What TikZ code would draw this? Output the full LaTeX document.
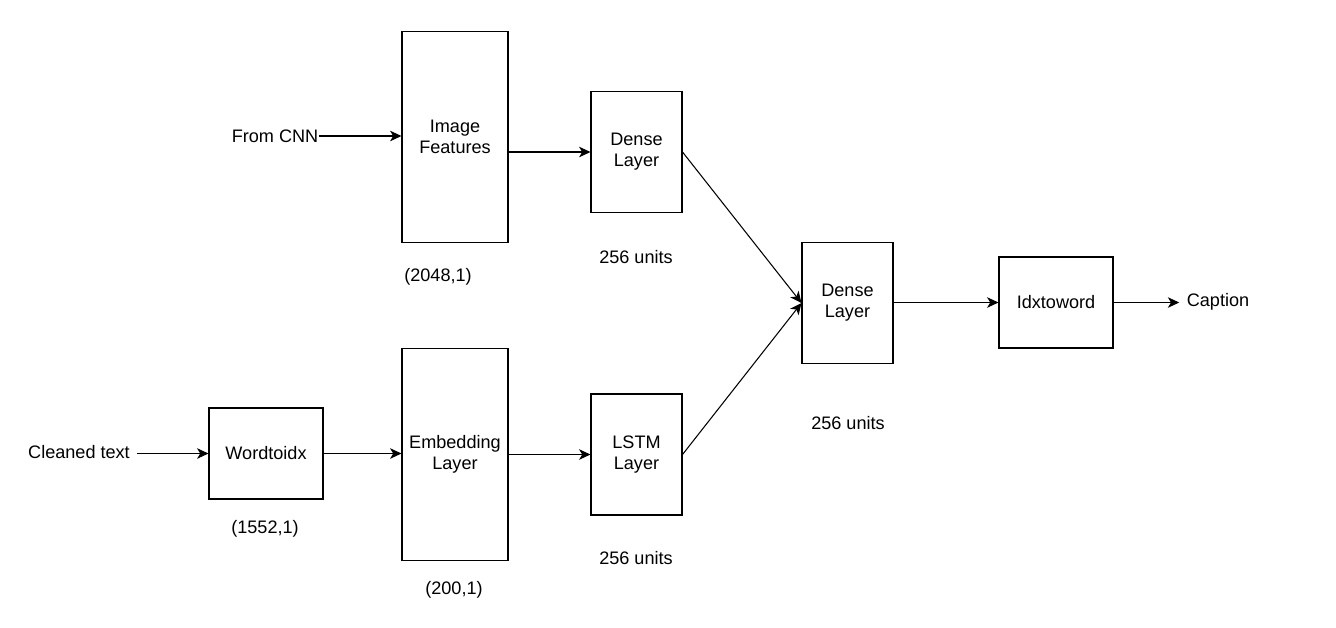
\documentclass[tikz,border=0pt]{standalone}
\usepackage{fontspec}
\setmainfont{Liberation Sans}
\usetikzlibrary{positioning}
\usetikzlibrary{calc}
\usetikzlibrary{arrows.meta}
\begin{document}
\begin{tikzpicture}[-{Stealth[length=6.5pt, width=6pt, inset=1.8pt]}, line width =0.6 pt,
        x=0.02cm, y=-0.02cm,
        font=\fontsize{10.3}{11.9}\selectfont,
        tall/.style={rectangle, draw, align=center, minimum width=2.12cm, minimum height=4.23cm, inner sep=0pt},
        mid/.style={rectangle, draw, align=center, minimum width=1.82cm, minimum height=2.42cm, inner sep=0pt},
        wide/.style={rectangle, draw, align=center, minimum width=2.28cm, minimum height=1.82cm, inner sep=0pt},
        lbl/.style={inner sep=0pt}]
            \useasboundingbox (0,0) rectangle (1336,627);

            % layer boxes
            \node [tall] (feat) at (455,137) {Image\\Features};
            \node [mid] (dense1) at (636.5,152) {Dense\\Layer};
            \node [wide] (w2i) at (266,453.5) {Wordtoidx};
            \node [tall] (embed) at (455,454.5) {Embedding\\Layer};
            \node [mid] (lstm) at (636.5,454.5) {LSTM\\Layer};
            \node [mid] (dense2) at (847.5,303) {Dense\\Layer};
            \node [wide] (i2w) at (1056,302.5) {Idxtoword};

            % inputs and output
            \node [lbl] (cnn) at (275,136) {From CNN};
            \node [lbl] (clean) at (79,452) {Cleaned text};
            \node [lbl] (capt) at (1218,302) {Caption};

            % sizes
            \node [lbl] (featsize) at (438,277) {(2048,1)};
            \node [lbl] (d1size) at (636,257) {256 units};
            \node [lbl] (w2isize) at (265,529) {(1552,1)};
            \node [lbl] (embsize) at (454,590) {(200,1)};
            \node [lbl] (lstmsize) at (636,558) {256 units};
            \node [lbl] (d2size) at (848,423) {256 units};

            \draw (cnn.east) -- (cnn.east -| feat.west);
            \draw (feat.east |- dense1.west) -- (dense1.west);
            \draw (dense1.east) -- (dense2.west);

            \draw ($(clean.east |- w2i.west)+(4pt,0)$) -- (w2i.west);
            \path (w2i) edge (embed.west |- w2i.east);
            \draw (embed.east |- lstm.west) -- (lstm.west);
            \draw (lstm.east) -- (dense2.west);

            \draw (dense2.east |- i2w.west) -- (i2w.west);
            \draw (i2w.east) -- ([xshift=-4pt]capt.west |- i2w.east);

        \end{tikzpicture}
\end{document}
